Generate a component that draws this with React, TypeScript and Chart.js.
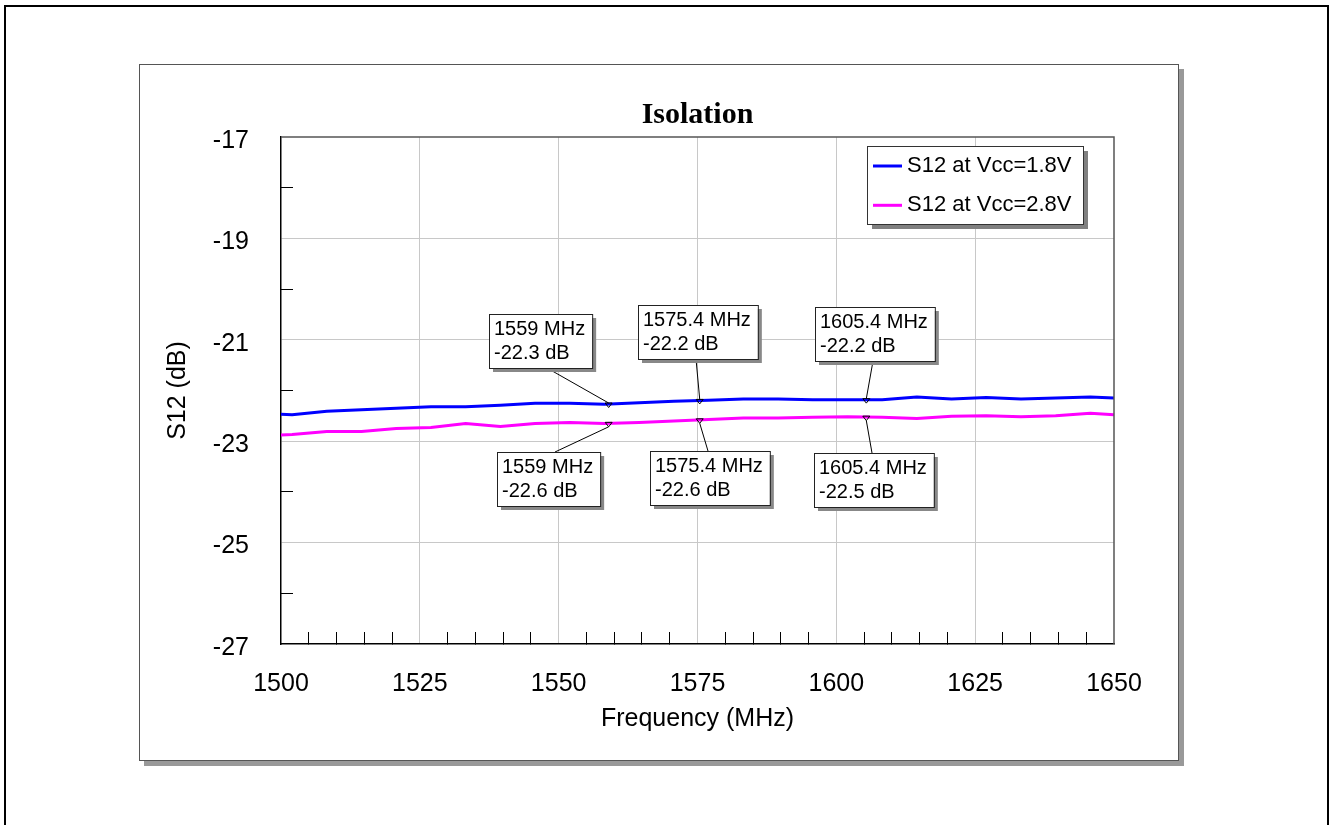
import React, { useEffect, useRef } from 'react';
import { Chart, registerables } from 'chart.js';

Chart.register(...registerables);

// ---- data ----
const FREQ_MHZ = [1500, 1502, 1508.25, 1514.5, 1520.75, 1527, 1533.25, 1539.5, 1545.75, 1552, 1558.25, 1564.5, 1570.75, 1577, 1583.25, 1589.5, 1595.75, 1602, 1608.25, 1614.5, 1620.75, 1627, 1633.25, 1639.5, 1645.75, 1650];
const S12_VCC_18 = [-22.47, -22.48, -22.41, -22.38, -22.35, -22.32, -22.32, -22.29, -22.25, -22.25, -22.27, -22.24, -22.21, -22.19, -22.17, -22.17, -22.18, -22.18, -22.18, -22.13, -22.17, -22.14, -22.17, -22.15, -22.13, -22.15];
const S12_VCC_28 = [-22.88, -22.87, -22.81, -22.81, -22.75, -22.73, -22.65, -22.71, -22.65, -22.63, -22.65, -22.63, -22.6, -22.57, -22.54, -22.54, -22.53, -22.52, -22.53, -22.55, -22.51, -22.5, -22.52, -22.5, -22.45, -22.48];
const SERIES_LABELS = ['S12 at Vcc=1.8V', 'S12 at Vcc=2.8V'];
const SERIES_COLORS = ['#0000ff', '#ff00ff'];

const MARKER_FREQS = [1559, 1575.4, 1605.4];
const MARKER_DB_18 = [-22.3, -22.2, -22.2];
const MARKER_DB_28 = [-22.6, -22.6, -22.5];

const X_LABELS = [1500, 1525, 1550, 1575, 1600, 1625, 1650];
const Y_LABELS = [-27, -25, -23, -21, -19, -17];

// ---- layout (pixel offsets of annotation boxes relative to their marker) ----
const BOX_OFFSETS_18 = [[-120, -90], [-62, -95], [-51, -93]];
const BOX_OFFSETS_28 = [[-112, 29], [-50, 31], [-52, 36]];

const SANS = 'Arial, "Liberation Sans", sans-serif';
const SERIF = '"Times New Roman", "Liberation Serif", serif';

function interp(xs: number[], ys: number[], f: number): number {
  for (let i = 0; i < xs.length - 1; i++) {
    if (f >= xs[i] && f <= xs[i + 1]) {
      const t = (f - xs[i]) / (xs[i + 1] - xs[i]);
      return ys[i] + t * (ys[i + 1] - ys[i]);
    }
  }
  return ys[ys.length - 1];
}

const decorPlugin = {
  id: 'decor',
  afterDraw(chart: any) {
    const ctx = chart.ctx as CanvasRenderingContext2D;
    const ca = chart.chartArea;
    const xs = chart.scales.x;
    const ys = chart.scales.y;
    ctx.save();
    // top & right frame of plot area
    ctx.strokeStyle = '#555';
    ctx.lineWidth = 1.5;
    ctx.beginPath();
    ctx.moveTo(ca.left, ca.top);
    ctx.lineTo(ca.right, ca.top);
    ctx.lineTo(ca.right, ca.bottom);
    ctx.stroke();

    // annotations
    const groups = [
      { vals: S12_VCC_18, labels: MARKER_DB_18, offs: BOX_OFFSETS_18 },
      { vals: S12_VCC_28, labels: MARKER_DB_28, offs: BOX_OFFSETS_28 },
    ];
    ctx.font = `20px ${SANS}`;
    groups.forEach((g) => {
      MARKER_FREQS.forEach((f, i) => {
        const mx = xs.getPixelForValue(f);
        const my = ys.getPixelForValue(interp(FREQ_MHZ, g.vals, f));
        const l1 = `${f} MHz`;
        const l2 = `${g.labels[i].toFixed(1)} dB`;
        const w = Math.max(ctx.measureText(l1).width, ctx.measureText(l2).width) + 12;
        const h = 54;
        const L = Math.round(mx + g.offs[i][0]);
        const T = Math.round(my + g.offs[i][1]);
        const above = g.offs[i][1] < 0;
        // leader
        ctx.strokeStyle = '#000';
        ctx.lineWidth = 1;
        ctx.beginPath();
        if (above) {
          ctx.moveTo(L + 58, T + h);
          ctx.lineTo(mx, my - 1);
        } else {
          ctx.moveTo(L + 58, T);
          ctx.lineTo(mx, my + 3.5);
        }
        ctx.stroke();
        // triangle marker
        ctx.beginPath();
        ctx.moveTo(mx - 3.5, my - 1);
        ctx.lineTo(mx + 3.5, my - 1);
        ctx.lineTo(mx, my + 3.5);
        ctx.closePath();
        ctx.stroke();
        // box
        ctx.fillStyle = '#888';
        ctx.fillRect(L + 4, T + 4, w, h);
        ctx.fillStyle = '#fff';
        ctx.fillRect(L, T, w, h);
        ctx.strokeStyle = '#222';
        ctx.strokeRect(L + 0.5, T + 0.5, w, h);
        ctx.fillStyle = '#000';
        ctx.textBaseline = 'middle';
        ctx.textAlign = 'left';
        ctx.fillText(l1, L + 5, T + 15.5);
        ctx.fillText(l2, L + 5, T + 39.5);
      });
    });

    // legend
    const bw = 216, bh = 78;
    const bl = Math.round(ca.right - 247);
    const bt = Math.round(ca.top + 9);
    ctx.fillStyle = '#808080';
    ctx.fillRect(bl + 5, bt + 5, bw, bh);
    ctx.fillStyle = '#fff';
    ctx.fillRect(bl, bt, bw, bh);
    ctx.strokeStyle = '#333';
    ctx.lineWidth = 1;
    ctx.strokeRect(bl + 0.5, bt + 0.5, bw, bh);
    ctx.font = `22px ${SANS}`;
    chart.data.datasets.forEach((ds: any, i: number) => {
      const y = bt + 20 + i * 39.3;
      ctx.strokeStyle = ds.borderColor;
      ctx.lineWidth = 3;
      ctx.beginPath();
      ctx.moveTo(bl + 6, y);
      ctx.lineTo(bl + 35, y);
      ctx.stroke();
      ctx.fillStyle = '#000';
      ctx.textBaseline = 'middle';
      ctx.fillText(ds.label, bl + 40, y);
    });
    ctx.restore();
  },
};

export default function App() {
  const ref = useRef<HTMLCanvasElement>(null);

  useEffect(() => {
    if (!ref.current) return;
    const isMajorX = (v: number) => X_LABELS.includes(Math.round(v));
    const isMajorY = (v: number) => Y_LABELS.includes(Math.round(v));
    const chart = new Chart(ref.current, {
      type: 'line',
      data: {
        datasets: [
          {
            label: SERIES_LABELS[0],
            data: FREQ_MHZ.map((f, i) => ({ x: f, y: S12_VCC_18[i] })),
            borderColor: SERIES_COLORS[0],
            backgroundColor: SERIES_COLORS[0],
            borderWidth: 3,
            pointRadius: 0,
            tension: 0,
            fill: false,
          },
          {
            label: SERIES_LABELS[1],
            data: FREQ_MHZ.map((f, i) => ({ x: f, y: S12_VCC_28[i] })),
            borderColor: SERIES_COLORS[1],
            backgroundColor: SERIES_COLORS[1],
            borderWidth: 3,
            pointRadius: 0,
            tension: 0,
            fill: false,
          },
        ],
      },
      options: {
        animation: false,
        responsive: false,
        devicePixelRatio: 1,
        layout: { padding: { left: 150, right: 217, top: 64, bottom: 60 } },
        plugins: {
          legend: { display: false },
          tooltip: { enabled: false },
          title: {
            display: true,
            text: 'Isolation',
            fullSize: false,
            color: '#000',
            font: { family: SERIF, size: 30, weight: 'bold' },
            padding: { top: 33.6, bottom: 3.4 },
          },
        },
        scales: {
          x: {
            type: 'linear',
            min: 1500,
            max: 1650,
            afterFit: (s: any) => { s.height = 121; },
            ticks: {
              stepSize: 5,
              autoSkip: false,
              maxRotation: 0,
              padding: 37,
              color: '#000',
              font: { family: SANS, size: 25 },
              callback: (v: any) => (isMajorX(Number(v)) ? String(v) : ''),
            },
            grid: {
              tickLength: -12,
              lineWidth: 1,
              color: (c: any) => {
                const v = c.tick ? c.tick.value : 0;
                return isMajorX(v) && v !== 1500 && v !== 1650 ? '#c8c8c8' : 'rgba(0,0,0,0)';
              },
              tickColor: (c: any) => {
                const v = c.tick ? c.tick.value : 0;
                return isMajorX(v) ? 'rgba(0,0,0,0)' : '#000';
              },
            },
            border: { display: true, color: '#000', width: 1.5 },
            title: {
              display: true,
              text: 'Frequency (MHz)',
              color: '#000',
              font: { family: SANS, size: 25 },
              padding: { top: 0, bottom: 30.4 },
            },
          },
          y: {
            type: 'linear',
            min: -27,
            max: -17,
            afterFit: (s: any) => { s.width = 131; },
            ticks: {
              stepSize: 1,
              autoSkip: false,
              padding: 44,
              labelOffset: 4,
              color: '#000',
              font: { family: SANS, size: 25 },
              callback: (v: any) => (isMajorY(Number(v)) ? String(v) : ''),
            },
            grid: {
              tickLength: -12,
              lineWidth: 1,
              color: (c: any) => {
                const v = c.tick ? c.tick.value : 0;
                return isMajorY(v) && v !== -27 && v !== -17 ? '#c8c8c8' : 'rgba(0,0,0,0)';
              },
              tickColor: (c: any) => {
                const v = c.tick ? c.tick.value : 0;
                return isMajorY(v) ? 'rgba(0,0,0,0)' : '#000';
              },
            },
            border: { display: true, color: '#000', width: 1.5 },
            title: {
              display: true,
              text: 'S12 (dB)',
              color: '#000',
              font: { family: SANS, size: 25 },
              padding: { top: 13, bottom: 0 },
            },
          },
        },
      } as any,
      plugins: [decorPlugin],
    });
    return () => chart.destroy();
  }, []);

  return (
    <div style={{ position: 'absolute', left: 0, top: 0, width: 1331, height: 825, overflow: 'hidden', background: '#fff' }}>
      <div style={{ position: 'absolute', left: 4, top: 5, width: 1325, height: 900, border: '2px solid #000', boxSizing: 'border-box' }} />
      <div style={{ position: 'absolute', left: 139, top: 64, width: 1040, height: 697, border: '1px solid #555', boxSizing: 'border-box', boxShadow: '5px 5px 0 #999', background: '#fff' }} />
      <canvas ref={ref} width={1331} height={825} style={{ position: 'absolute', left: 0, top: 0, width: 1331, height: 825 }} />
    </div>
  );
}
